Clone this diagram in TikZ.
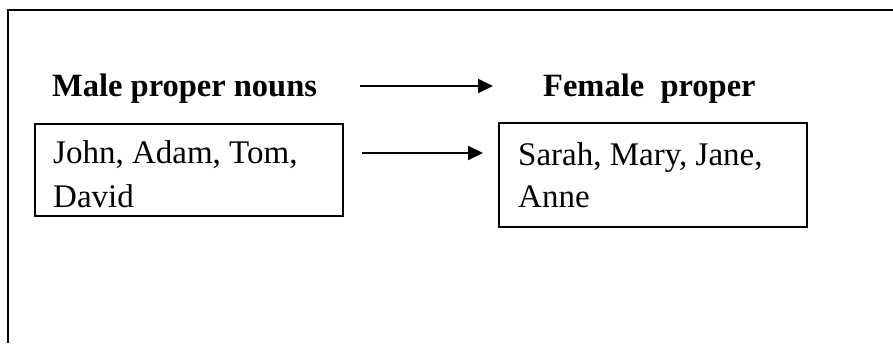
\documentclass[tikz,border=0pt]{standalone}
\usepackage{fontspec}
\setmainfont{Liberation Serif}
\usetikzlibrary{arrows.meta}
\begin{document}
\begin{tikzpicture}[x=1pt,y=-1pt,
  frame/.style={line width=2pt},
  boxnode/.style={draw,line width=1.6pt,anchor=north west,inner sep=0pt,minimum width=308pt},
  head/.style={anchor=base west,inner sep=0pt,font=\fontsize{32.5}{38}\selectfont\bfseries},
  body/.style={anchor=base west,inner sep=0pt,align=left},
  arr/.style={line width=2pt,-{Triangle[length=15pt,width=14pt]}}]
\useasboundingbox (0,0) rectangle (893,343);
\draw[frame] (893,10) -- (8,10) -- (8,343);
\node[head] (male) at (52,96) {Male proper nouns};
\node[head] (female) at (543,96) {Female\ \ proper};
\node[boxnode,minimum height=92pt] (lbox) at (34,123) {};
\node[boxnode,minimum height=104pt] (rbox) at (498,122) {};
\node[body,font=\fontsize{33}{44}\selectfont] (ltext) at (53,207) {John, Adam, Tom,\\David};
\node[body,font=\fontsize{33}{42}\selectfont] (rtext) at (518,207) {Sarah, Mary, Jane,\\Anne};
\draw[arr,shorten <=43pt,shorten >=50pt] (male.east |- 0,86) -- (female.west |- 0,86);
\draw[arr,shorten <=18pt,shorten >=15pt] (lbox.east |- 0,153) -- (rbox.west |- 0,153);
\end{tikzpicture}
\end{document}
